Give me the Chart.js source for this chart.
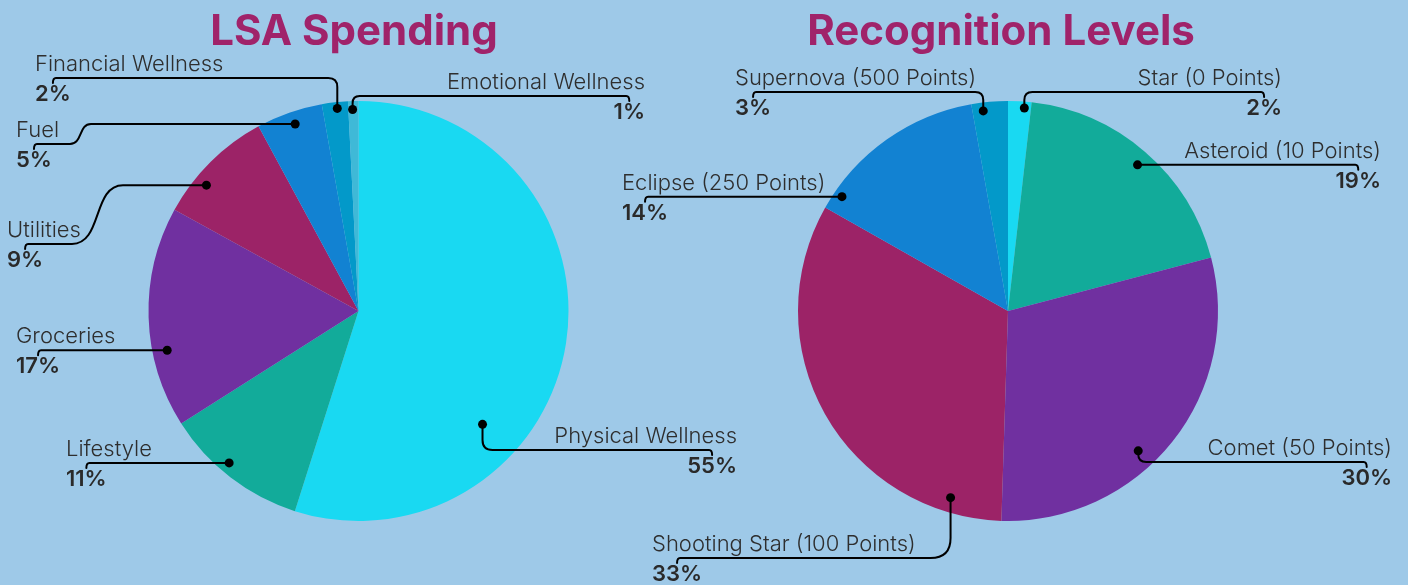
<!DOCTYPE html>
<html>
<head>
<meta charset="utf-8">
<script src="https://cdn.jsdelivr.net/npm/chart.js@4.4.1/dist/chart.umd.min.js"></script>
<style>
  html,body{margin:0;padding:0;background:#9ec9e8;width:1408px;height:585px;overflow:hidden;}
  .wrap{position:absolute;top:0;height:585px;}
  #w1{left:0;width:760px;}
  #w2{left:580px;width:828px;}
  canvas{display:block;}
</style>
</head>
<body>
<div class="wrap" id="w1"><canvas id="c1" width="760" height="585"></canvas></div>
<div class="wrap" id="w2"><canvas id="c2" width="828" height="585"></canvas></div>
<script>
// ---- Data ----
const spendTitle = 'LSA Spending';
const spendCategories = ['Physical Wellness','Lifestyle','Groceries','Utilities','Fuel','Financial Wellness','Emotional Wellness'];
const spendValues = [54.9, 11.1, 17.0, 9.1, 5.1, 2.0, 0.8];

const levelTitle = 'Recognition Levels';
const levelCategories = ['Star (0 Points)','Asteroid (10 Points)','Comet (50 Points)','Shooting Star (100 Points)','Eclipse (250 Points)','Supernova (500 Points)'];
const levelValues = [1.8, 19.1, 29.6, 32.7, 14.0, 2.8];

// ---- Styles ----
const spendColors = ['#19d9f2','#12ab9a','#7030a0','#9c2367','#1282d2','#0399c9','#3fb9d7'];
const levelColors = ['#19d9f2','#12ab9a','#7030a0','#9c2367','#1282d2','#0399c9'];
const TITLE_COLOR = '#a0236a';
const FONT = 'Inter, "Open Sans", sans-serif';
const LABEL_FONT = '300 22px ' + FONT;
const PCT_FONT = '600 22px ' + FONT;

// ---- Callout layout (page coordinates) ----
const spendLayout = [
  {x:737, ly:450, align:'right', frac:0.67, rad:0.80, route:'corner', cr:10},
  {x:66,  align:'left',  frac:0.57, rad:0.95, route:'straight'},
  {x:16,  align:'left',  frac:0.34, rad:0.93, route:'straight'},
  {x:7,   ly:244, align:'left', frac:0.33, rad:0.94, route:'scurve', s0:72, s1:123},
  {x:16,  ly:144, align:'left', frac:0.53, rad:0.94, route:'scurve', s0:70, s1:91},
  {x:35,  ly:78,  align:'left', frac:0.57, rad:0.97, route:'corner', cr:9},
  {x:645, ly:96,  align:'right', frac:0.42, rad:0.96, route:'corner', cr:7}
];
const levelLayout = [
  {x:1282, ly:92,  align:'right', frac:0.71, rad:0.97, route:'corner', cr:8},
  {x:1381, align:'right', frac:0.51, rad:0.93, route:'straight'},
  {x:1392, ly:462, align:'right', frac:0.58, rad:0.91, route:'corner', cr:8},
  {x:652,  ly:558, align:'left', frac:0.13, rad:0.93, route:'corner', cr:20},
  {x:622,  align:'left', frac:0.10, rad:0.96, route:'straight'},
  {x:735,  ly:92,  align:'left', frac:0.30, rad:0.96, route:'corner', cr:8}
];

const calloutPlugin = {
  id: 'callouts',
  afterDraw(chart, args, opts) {
    const ctx = chart.ctx;
    const meta = chart.getDatasetMeta(0);
    const data = chart.data.datasets[0].data;
    const labels = chart.data.labels;
    const total = data.reduce((a, b) => a + b, 0);
    const off = opts.offsetX;
    ctx.save();
    ctx.font = '700 42px ' + FONT;
    ctx.fillStyle = TITLE_COLOR;
    ctx.textAlign = 'center';
    ctx.textBaseline = 'alphabetic';
    ctx.fillText(opts.title, opts.titleX - off, 45);

    opts.layout.forEach((L, i) => {
      const arc = meta.data[i];
      const p = arc.getProps(['x','y','startAngle','endAngle','outerRadius'], true);
      const a = p.startAngle + (p.endAngle - p.startAngle) * L.frac;
      const r = p.outerRadius * L.rad;
      const dx = p.x + r * Math.cos(a), dy = p.y + r * Math.sin(a);
      const ly = L.route === 'straight' ? dy : L.ly;
      const tx = L.x - off;
      const pct = Math.round(data[i] / total * 100) + '%';
      ctx.font = PCT_FONT;
      const pw = ctx.measureText(pct).width;
      const hx = L.align === 'left' ? tx + pw / 2 : tx - pw / 2;

      ctx.beginPath();
      ctx.strokeStyle = '#000';
      ctx.lineWidth = 2;
      ctx.lineJoin = 'round';
      ctx.lineCap = 'round';
      ctx.moveTo(hx, ly + 5);
      ctx.quadraticCurveTo(hx, ly, hx + (dx > hx ? 3 : -3), ly);
      if (L.route === 'straight') {
        ctx.lineTo(dx, ly);
      } else if (L.route === 'corner') {
        const dir = Math.sign(dx - hx);
        const vr = Math.min(L.cr, Math.abs(dy - ly));
        ctx.lineTo(dx - dir * vr, ly);
        ctx.quadraticCurveTo(dx, ly, dx, ly + Math.sign(dy - ly) * vr);
        ctx.lineTo(dx, dy);
      } else {
        const s0 = L.s0 - off, s1 = L.s1 - off, w = s1 - s0;
        ctx.lineTo(s0, ly);
        ctx.bezierCurveTo(s0 + w * 0.6, ly, s0 + w * 0.4, dy, s1, dy);
        ctx.lineTo(dx, dy);
      }
      ctx.stroke();
      ctx.beginPath();
      ctx.fillStyle = '#000';
      ctx.arc(dx, dy, 4.5, 0, Math.PI * 2);
      ctx.fill();

      ctx.textAlign = L.align;
      ctx.fillStyle = '#2e2e2e';
      ctx.font = LABEL_FONT;
      ctx.fillText(labels[i], tx, ly - 7);
      ctx.fillStyle = '#2a2a2a';
      ctx.font = PCT_FONT;
      ctx.fillText(pct, tx, ly + 23);
    });
    ctx.restore();
  }
};

function makePie(id, cats, vals, colors, pad, title, titleX, layout, offsetX) {
  return new Chart(document.getElementById(id), {
    type: 'pie',
    data: {
      labels: cats,
      datasets: [{ data: vals, backgroundColor: colors, borderWidth: 0, hoverOffset: 0 }]
    },
    options: {
      responsive: false,
      animation: false,
      layout: { padding: pad },
      plugins: {
        legend: { display: false },
        tooltip: { enabled: false },
        title: { display: false },
        callouts: { title, titleX, layout, offsetX }
      }
    },
    plugins: [calloutPlugin]
  });
}

makePie('c1', spendCategories, spendValues, spendColors,
  {left:148, right:191, top:101, bottom:64}, spendTitle, 354, spendLayout, 0);
makePie('c2', levelCategories, levelValues, levelColors,
  {left:217.5, right:189.5, top:101, bottom:64}, levelTitle, 1001, levelLayout, 580);
</script>
</body>
</html>
